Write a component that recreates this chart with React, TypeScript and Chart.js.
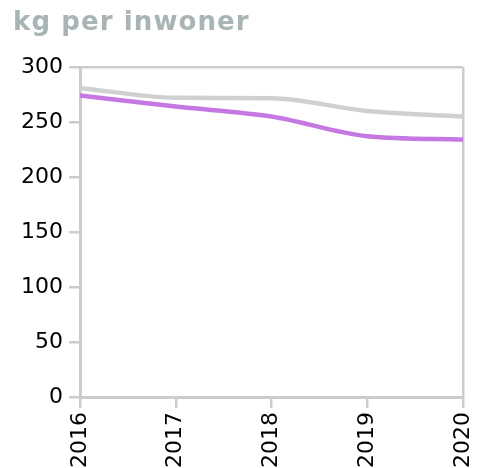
import React, { useEffect, useRef } from "react";
import { Chart, registerables } from "chart.js";

Chart.register(...registerables);

const years = ["2016", "2017", "2018", "2019", "2020"];
const graySeries = [281, 272, 271.5, 260, 255];
const purpleSeries = [274, 264, 255, 237, 234];
const yTicks = [0, 50, 100, 150, 200, 250, 300];
const titleText = "kg per inwoner";

export default function App() {
  const ref = useRef<HTMLCanvasElement | null>(null);

  useEffect(() => {
    if (!ref.current) return;
    const axisColor = "#cccccc";
    const font = { family: "'DejaVu Sans', Verdana, sans-serif", size: 22 };
    const chart = new Chart(ref.current, {
      type: "line",
      data: {
        labels: years,
        datasets: [
          {
            label: "gray",
            data: graySeries,
            borderColor: "#d0d0d0",
            borderWidth: 4.5,
            pointRadius: 0,
            cubicInterpolationMode: "monotone",
            fill: false,
          },
          {
            label: "purple",
            data: purpleSeries,
            borderColor: "#c678e2",
            borderWidth: 4.5,
            pointRadius: 0,
            cubicInterpolationMode: "monotone",
            fill: false,
          },
        ],
      },
      options: {
        animation: false,
        responsive: false,
        maintainAspectRatio: false,
        layout: { padding: { top: 67, right: 15, left: 0, bottom: 0 } },
        plugins: {
          legend: { display: false },
          tooltip: { enabled: false },
          title: { display: false },
        },
        scales: {
          x: {
            type: "category",
            offset: false,
            border: { display: true, color: axisColor, width: 3 },
            grid: {
              display: true,
              drawOnChartArea: true,
              drawTicks: true,
              tickLength: 11,
              lineWidth: 2.5,
              tickColor: axisColor,
              color: (ctx: any) =>
                ctx.index === years.length - 1 ? axisColor : "rgba(0,0,0,0)",
            },
            ticks: {
              color: "#000",
              font,
              padding: 4,
              minRotation: 90,
              maxRotation: 90,
              autoSkip: false,
            },
            afterFit: (scale: any) => {
              scale.height = 71;
              scale.paddingLeft = 0;
              scale.paddingRight = 0;
            },
          },
          y: {
            min: 0,
            max: 300,
            afterBuildTicks: (scale: any) => {
              scale.ticks = yTicks.map((v) => ({ value: v }));
            },
            border: { display: true, color: axisColor, width: 3 },
            grid: {
              display: true,
              drawOnChartArea: true,
              drawTicks: true,
              tickLength: 11,
              lineWidth: 2.5,
              tickColor: axisColor,
              color: (ctx: any) =>
                ctx.tick && ctx.tick.value === 300 ? axisColor : "rgba(0,0,0,0)",
            },
            ticks: {
              color: "#000",
              font,
              padding: 6,
            },
            afterFit: (scale: any) => {
              scale.width = 80;
              scale.paddingTop = 0;
              scale.paddingBottom = 0;
            },
          },
        },
      },
    });
    return () => chart.destroy();
  }, []);

  return (
    <div
      style={{
        position: "fixed",
        left: 0,
        top: 0,
        width: 478,
        height: 468,
        background: "#fff",
      }}
    >
      <canvas
        ref={ref}
        width={478}
        height={468}
        style={{ position: "absolute", left: 0, top: 0, width: 478, height: 468 }}
      />
      <div
        style={{
          position: "absolute",
          left: 13,
          top: 6,
          fontFamily: "'DejaVu Sans', Verdana, sans-serif",
          fontWeight: "bold",
          fontSize: 26,
          letterSpacing: 1.1,
          color: "#a9b4b4",
          whiteSpace: "nowrap",
        }}
      >
        {titleText}
      </div>
    </div>
  );
}
